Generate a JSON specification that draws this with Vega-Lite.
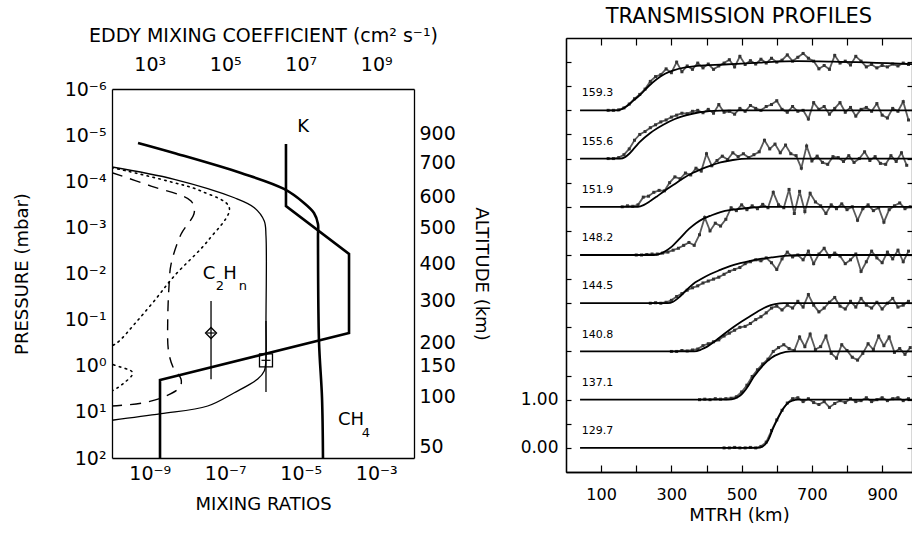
{
"$schema": "https://vega.github.io/schema/vega-lite/v6.json",
"background": "white",
"padding": {"left": 13, "top": 6, "right": 0, "bottom": 0},
"config": {
  "font": "DejaVu Sans",
  "view": {"stroke": null},
  "axis": {"grid": false, "domainColor": "black", "domainWidth": 1.3, "tickColor": "black", "tickWidth": 1.2, "labelColor": "black", "titleColor": "black", "titleFontWeight": "normal", "labelFont": "DejaVu Sans", "titleFont": "DejaVu Sans", "labelOverlap": false, "labelFlush": false},
  "title": {"font": "DejaVu Sans", "fontWeight": "normal", "color": "black"}
},
"datasets": {
  "thin": [{"m":1e-10,"p":4.91e-5},{"m":4.47e-9,"p":9.08e-5},{"m":1.74e-7,"p":2.28e-4},{"m":5.89e-7,"p":3.74e-4},{"m":1.08e-6,"p":7.28e-4},{"m":1.2e-6,"p":1.54e-3},{"m":1.2e-6,"p":0.107},{"m":1.2e-6,"p":0.668},{"m":1.08e-6,"p":1.3},{"m":7.24e-7,"p":1.94},{"m":1.74e-7,"p":3.84},{"m":3.43e-8,"p":7.46},{"m":1.99e-9,"p":10.96},{"m":1e-10,"p":15.2}],
  "dotted": [{"m":1e-10,"p":5.04e-5},{"m":2.99e-9,"p":9.89e-5},{"m":2.28e-8,"p":1.63e-4},{"m":1.28e-7,"p":3.74e-4},{"m":3.43e-8,"p":1.97e-3},{"m":4.47e-9,"p":1.13e-2},{"m":1.2e-9,"p":4.3e-2},{"m":3.9e-10,"p":0.126},{"m":1.56e-10,"p":0.29},{"m":1e-10,"p":0.373},{"m":3.77e-11,"p":0.556},{"m":1e-10,"p":0.916},{"m":3.53e-10,"p":1.42},{"m":1.92e-10,"p":2.49},{"m":1e-10,"p":3.52},{"m":3.8e-11,"p":5.25}],
  "dashed": [{"m":1e-10,"p":6.53e-5},{"m":1.08e-9,"p":1.27e-4},{"m":1.24e-8,"p":2.68e-4},{"m":1.51e-8,"p":4.81e-4},{"m":6.73e-9,"p":1.41e-3},{"m":3.66e-9,"p":6.32e-3},{"m":3.3e-9,"p":1.46e-2},{"m":2.99e-9,"p":0.107},{"m":3.14e-9,"p":0.479},{"m":4.13e-9,"p":1.06},{"m":6.73e-9,"p":1.94},{"m":6.32e-9,"p":2.89},{"m":2.69e-9,"p":4.53},{"m":7.18e-10,"p":6.32},{"m":1e-10,"p":7.46}],
  "ch4": [{"m":4.89e-10,"p":1.48e-5},{"m":4.39e-9,"p":2.44e-5},{"m":2.61e-7,"p":6.62e-5},{"m":3.6e-6,"p":1.47e-4},{"m":1.22e-5,"p":2.96e-4},{"m":2.24e-5,"p":4.88e-4},{"m":2.86e-5,"p":8.45e-4},{"m":2.86e-5,"p":1.54e-3},{"m":3.04e-5,"p":0.29},{"m":3.66e-5,"p":5.0},{"m":3.88e-5,"p":100}],
  "kprof": [{"k":4.06e6,"p":1.56e-5},{"k":4.06e6,"p":3.44e-4},{"k":1.9e8,"p":3.78e-3},{"k":1.9e8,"p":0.195},{"k":1.87e3,"p":2.04},{"k":1.87e3,"p":100}],
  "bars": [{"m":4.2e-8,"p":0.0394,"p2":1.97},{"m":1.2e-6,"p":0.107,"p2":3.7}],
  "diamond": [{"m":4.2e-8,"p":0.195}],
  "square": [{"m":1.2e-6,"p":0.762}],
  "centers": [{"m":4.2e-8,"p":0.195},{"m":1.2e-6,"p":0.762}],
  "txt": [{"m":1.15e-5,"p":6.67e-6,"t":"K"},{"m":3.72e-8,"p":1.03e-2,"t":"C"},{"m":1.34e-7,"p":1.03e-2,"t":"H"},{"m":2.14e-4,"p":15.0,"t":"CH"}],
  "sub": [{"m":7.26e-8,"p":1.87e-2,"t":"2"},{"m":2.95e-7,"p":1.87e-2,"t":"n"},{"m":5.35e-4,"p":28.7,"t":"4"}],
  "pmaj": [{"p":1e-5},{"p":1e-4},{"p":1e-3},{"p":1e-2},{"p":0.1},{"p":1},{"p":10}],
  "pmin": [{"p":2e-6},{"p":3e-6},{"p":4e-6},{"p":5e-6},{"p":6e-6},{"p":7e-6},{"p":8e-6},{"p":9e-6},{"p":2e-5},{"p":3e-5},{"p":4e-5},{"p":5e-5},{"p":6e-5},{"p":7e-5},{"p":8e-5},{"p":9e-5},{"p":2e-4},{"p":3e-4},{"p":4e-4},{"p":5e-4},{"p":6e-4},{"p":7e-4},{"p":8e-4},{"p":9e-4},{"p":2e-3},{"p":3e-3},{"p":4e-3},{"p":5e-3},{"p":6e-3},{"p":7e-3},{"p":8e-3},{"p":9e-3},{"p":0.02},{"p":0.03},{"p":0.04},{"p":0.05},{"p":0.06},{"p":0.07},{"p":0.08},{"p":0.09},{"p":0.2},{"p":0.3},{"p":0.4},{"p":0.5},{"p":0.6},{"p":0.7},{"p":0.8},{"p":0.9},{"p":2},{"p":3},{"p":4},{"p":5},{"p":6},{"p":7},{"p":8},{"p":9},{"p":20},{"p":30},{"p":40},{"p":50},{"p":60},{"p":70},{"p":80},{"p":90}],
  "mmaj": [{"m":1e-9},{"m":1e-8},{"m":1e-7},{"m":1e-6},{"m":1e-5},{"m":1e-4},{"m":1e-3}],
  "mmin": [{"m":2e-10},{"m":3e-10},{"m":4e-10},{"m":5e-10},{"m":6e-10},{"m":7e-10},{"m":8e-10},{"m":9e-10},{"m":2e-9},{"m":3e-9},{"m":4e-9},{"m":5e-9},{"m":6e-9},{"m":7e-9},{"m":8e-9},{"m":9e-9},{"m":2e-8},{"m":3e-8},{"m":4e-8},{"m":5e-8},{"m":6e-8},{"m":7e-8},{"m":8e-8},{"m":9e-8},{"m":2e-7},{"m":3e-7},{"m":4e-7},{"m":5e-7},{"m":6e-7},{"m":7e-7},{"m":8e-7},{"m":9e-7},{"m":2e-6},{"m":3e-6},{"m":4e-6},{"m":5e-6},{"m":6e-6},{"m":7e-6},{"m":8e-6},{"m":9e-6},{"m":2e-5},{"m":3e-5},{"m":4e-5},{"m":5e-5},{"m":6e-5},{"m":7e-5},{"m":8e-5},{"m":9e-5},{"m":2e-4},{"m":3e-4},{"m":4e-4},{"m":5e-4},{"m":6e-4},{"m":7e-4},{"m":8e-4},{"m":9e-4},{"m":2e-3},{"m":3e-3},{"m":4e-3},{"m":5e-3},{"m":6e-3},{"m":7e-3},{"m":8e-3},{"m":9e-3}],
  "kmaj": [{"k":1e3},{"k":1e4},{"k":1e5},{"k":1e6},{"k":1e7},{"k":1e8},{"k":1e9}],
  "kmin": [{"k":200},{"k":300},{"k":400},{"k":500},{"k":600},{"k":700},{"k":800},{"k":900},{"k":2e3},{"k":3e3},{"k":4e3},{"k":5e3},{"k":6e3},{"k":7e3},{"k":8e3},{"k":9e3},{"k":2e4},{"k":3e4},{"k":4e4},{"k":5e4},{"k":6e4},{"k":7e4},{"k":8e4},{"k":9e4},{"k":2e5},{"k":3e5},{"k":4e5},{"k":5e5},{"k":6e5},{"k":7e5},{"k":8e5},{"k":9e5},{"k":2e6},{"k":3e6},{"k":4e6},{"k":5e6},{"k":6e6},{"k":7e6},{"k":8e6},{"k":9e6},{"k":2e7},{"k":3e7},{"k":4e7},{"k":5e7},{"k":6e7},{"k":7e7},{"k":8e7},{"k":9e7},{"k":2e8},{"k":3e8},{"k":4e8},{"k":5e8},{"k":6e8},{"k":7e8},{"k":8e8},{"k":9e8},{"k":2e9},{"k":3e9},{"k":4e9},{"k":5e9},{"k":6e9},{"k":7e9},{"k":8e9},{"k":9e9}],
  "amaj": [{"p":9.0e-6},{"p":4.02e-5},{"p":2.09e-4},{"p":1.03e-3},{"p":6.22e-3},{"p":0.0394},{"p":0.321},{"p":1.01},{"p":4.53},{"p":55.0}],
  "amin": [{"p":4.3e-6},{"p":1.9e-5},{"p":9.2e-5},{"p":4.6e-4},{"p":2.5e-3},{"p":0.0157},{"p":0.113},{"p":0.57},{"p":2.14},{"p":15.8}],
  "model": [
    {"c":"129.7","x":40,"v":0},{"c":"129.7","x":545,"v":0},{"c":"129.7","x":560,"v":0.03},{"c":"129.7","x":575,"v":0.15},{"c":"129.7","x":591,"v":0.43},{"c":"129.7","x":601,"v":0.58},{"c":"129.7","x":611,"v":0.72},{"c":"129.7","x":620,"v":0.83},{"c":"129.7","x":630,"v":0.92},{"c":"129.7","x":645,"v":0.98},{"c":"129.7","x":660,"v":1.0},{"c":"129.7","x":985,"v":1.0},
    {"c":"137.1","x":40,"v":1},{"c":"137.1","x":462,"v":1},{"c":"137.1","x":480,"v":1.02},{"c":"137.1","x":495,"v":1.08},{"c":"137.1","x":505,"v":1.15},{"c":"137.1","x":520,"v":1.3},{"c":"137.1","x":534,"v":1.47},{"c":"137.1","x":548,"v":1.6},{"c":"137.1","x":562,"v":1.72},{"c":"137.1","x":585,"v":1.87},{"c":"137.1","x":610,"v":1.96},{"c":"137.1","x":640,"v":2.0},{"c":"137.1","x":985,"v":2.0},
    {"c":"140.8","x":40,"v":2},{"c":"140.8","x":365,"v":2},{"c":"140.8","x":385,"v":2.04},{"c":"140.8","x":402,"v":2.1},{"c":"140.8","x":420,"v":2.19},{"c":"140.8","x":450,"v":2.36},{"c":"140.8","x":476,"v":2.5},{"c":"140.8","x":500,"v":2.62},{"c":"140.8","x":524,"v":2.73},{"c":"140.8","x":548,"v":2.84},{"c":"140.8","x":572,"v":2.93},{"c":"140.8","x":595,"v":2.98},{"c":"140.8","x":620,"v":3.0},{"c":"140.8","x":985,"v":3.0},
    {"c":"144.5","x":40,"v":3},{"c":"144.5","x":290,"v":3},{"c":"144.5","x":305,"v":3.03},{"c":"144.5","x":320,"v":3.11},{"c":"144.5","x":344,"v":3.28},{"c":"144.5","x":362,"v":3.4},{"c":"144.5","x":382,"v":3.49},{"c":"144.5","x":410,"v":3.6},{"c":"144.5","x":439,"v":3.69},{"c":"144.5","x":467,"v":3.77},{"c":"144.5","x":496,"v":3.83},{"c":"144.5","x":525,"v":3.88},{"c":"144.5","x":553,"v":3.92},{"c":"144.5","x":585,"v":3.95},{"c":"144.5","x":620,"v":3.98},{"c":"144.5","x":680,"v":4.0},{"c":"144.5","x":985,"v":4.0},
    {"c":"148.2","x":40,"v":4},{"c":"148.2","x":250,"v":4},{"c":"148.2","x":265,"v":4.02},{"c":"148.2","x":285,"v":4.09},{"c":"148.2","x":302,"v":4.18},{"c":"148.2","x":325,"v":4.35},{"c":"148.2","x":350,"v":4.54},{"c":"148.2","x":370,"v":4.66},{"c":"148.2","x":390,"v":4.75},{"c":"148.2","x":410,"v":4.81},{"c":"148.2","x":440,"v":4.89},{"c":"148.2","x":476,"v":4.94},{"c":"148.2","x":524,"v":4.98},{"c":"148.2","x":580,"v":5.0},{"c":"148.2","x":985,"v":5.0},
    {"c":"151.9","x":40,"v":5},{"c":"151.9","x":205,"v":5},{"c":"151.9","x":222,"v":5.04},{"c":"151.9","x":240,"v":5.12},{"c":"151.9","x":258,"v":5.21},{"c":"151.9","x":277,"v":5.31},{"c":"151.9","x":305,"v":5.45},{"c":"151.9","x":334,"v":5.59},{"c":"151.9","x":360,"v":5.7},{"c":"151.9","x":385,"v":5.78},{"c":"151.9","x":410,"v":5.85},{"c":"151.9","x":440,"v":5.92},{"c":"151.9","x":475,"v":5.97},{"c":"151.9","x":520,"v":6.0},{"c":"151.9","x":985,"v":6.0},
    {"c":"155.6","x":40,"v":6},{"c":"155.6","x":155,"v":6},{"c":"155.6","x":168,"v":6.03},{"c":"155.6","x":180,"v":6.1},{"c":"155.6","x":195,"v":6.22},{"c":"155.6","x":211,"v":6.35},{"c":"155.6","x":240,"v":6.53},{"c":"155.6","x":277,"v":6.7},{"c":"155.6","x":310,"v":6.82},{"c":"155.6","x":344,"v":6.9},{"c":"155.6","x":380,"v":6.96},{"c":"155.6","x":420,"v":6.99},{"c":"155.6","x":460,"v":7.0},{"c":"155.6","x":985,"v":7.0},
    {"c":"159.3","x":40,"v":7},{"c":"159.3","x":148,"v":7},{"c":"159.3","x":160,"v":7.03},{"c":"159.3","x":172,"v":7.08},{"c":"159.3","x":190,"v":7.19},{"c":"159.3","x":211,"v":7.32},{"c":"159.3","x":235,"v":7.5},{"c":"159.3","x":259,"v":7.65},{"c":"159.3","x":282,"v":7.76},{"c":"159.3","x":306,"v":7.83},{"c":"159.3","x":340,"v":7.89},{"c":"159.3","x":373,"v":7.92},{"c":"159.3","x":450,"v":7.95},{"c":"159.3","x":550,"v":7.99},{"c":"159.3","x":660,"v":8.02},{"c":"159.3","x":760,"v":8.01},{"c":"159.3","x":985,"v":7.96}
  ],
  "labels": [{"c":"129.7","x":45,"v":0.35},{"c":"137.1","x":45,"v":1.35},{"c":"140.8","x":45,"v":2.35},{"c":"144.5","x":45,"v":3.35},{"c":"148.2","x":45,"v":4.35},{"c":"151.9","x":45,"v":5.35},{"c":"155.6","x":45,"v":6.35},{"c":"159.3","x":45,"v":7.35}],
  "noise": [
    {"c":"159.3","x":120,"v":7.0},{"c":"159.3","x":135,"v":7.0},{"c":"159.3","x":150,"v":7.01},{"c":"159.3","x":165,"v":7.05},{"c":"159.3","x":180,"v":7.13},{"c":"159.3","x":195,"v":7.24},{"c":"159.3","x":210,"v":7.33},{"c":"159.3","x":225,"v":7.44},{"c":"159.3","x":240,"v":7.6},{"c":"159.3","x":255,"v":7.7},{"c":"159.3","x":270,"v":7.74},{"c":"159.3","x":285,"v":7.86},{"c":"159.3","x":300,"v":7.78},{"c":"159.3","x":315,"v":8.0},{"c":"159.3","x":330,"v":7.8},{"c":"159.3","x":345,"v":7.92},{"c":"159.3","x":360,"v":7.85},{"c":"159.3","x":375,"v":7.98},{"c":"159.3","x":390,"v":7.88},{"c":"159.3","x":405,"v":7.96},{"c":"159.3","x":420,"v":7.85},{"c":"159.3","x":435,"v":7.92},{"c":"159.3","x":450,"v":7.98},{"c":"159.3","x":465,"v":8.05},{"c":"159.3","x":480,"v":7.9},{"c":"159.3","x":495,"v":8.12},{"c":"159.3","x":510,"v":7.95},{"c":"159.3","x":525,"v":8.03},{"c":"159.3","x":540,"v":7.96},{"c":"159.3","x":555,"v":8.06},{"c":"159.3","x":570,"v":7.98},{"c":"159.3","x":585,"v":8.08},{"c":"159.3","x":600,"v":8.0},{"c":"159.3","x":615,"v":8.04},{"c":"159.3","x":630,"v":8.15},{"c":"159.3","x":645,"v":8.02},{"c":"159.3","x":660,"v":8.1},{"c":"159.3","x":675,"v":8.18},{"c":"159.3","x":690,"v":8.08},{"c":"159.3","x":705,"v":8.02},{"c":"159.3","x":720,"v":7.86},{"c":"159.3","x":735,"v":7.93},{"c":"159.3","x":750,"v":7.85},{"c":"159.3","x":765,"v":8.14},{"c":"159.3","x":780,"v":7.98},{"c":"159.3","x":795,"v":8.02},{"c":"159.3","x":810,"v":7.94},{"c":"159.3","x":825,"v":8.12},{"c":"159.3","x":840,"v":8.02},{"c":"159.3","x":855,"v":7.9},{"c":"159.3","x":870,"v":7.95},{"c":"159.3","x":885,"v":7.88},{"c":"159.3","x":900,"v":7.93},{"c":"159.3","x":915,"v":7.9},{"c":"159.3","x":930,"v":7.96},{"c":"159.3","x":945,"v":7.92},{"c":"159.3","x":960,"v":7.98},{"c":"159.3","x":975,"v":7.95},
    {"c":"155.6","x":120,"v":6.0},{"c":"155.6","x":135,"v":6.0},{"c":"155.6","x":150,"v":6.02},{"c":"155.6","x":165,"v":6.08},{"c":"155.6","x":180,"v":6.2},{"c":"155.6","x":195,"v":6.38},{"c":"155.6","x":210,"v":6.5},{"c":"155.6","x":225,"v":6.56},{"c":"155.6","x":240,"v":6.64},{"c":"155.6","x":255,"v":6.7},{"c":"155.6","x":270,"v":6.76},{"c":"155.6","x":285,"v":6.8},{"c":"155.6","x":300,"v":6.86},{"c":"155.6","x":315,"v":6.9},{"c":"155.6","x":330,"v":6.94},{"c":"155.6","x":345,"v":6.93},{"c":"155.6","x":360,"v":6.98},{"c":"155.6","x":375,"v":7.0},{"c":"155.6","x":390,"v":6.95},{"c":"155.6","x":405,"v":7.02},{"c":"155.6","x":420,"v":6.94},{"c":"155.6","x":435,"v":7.12},{"c":"155.6","x":450,"v":6.96},{"c":"155.6","x":465,"v":6.98},{"c":"155.6","x":480,"v":6.92},{"c":"155.6","x":495,"v":7.04},{"c":"155.6","x":510,"v":6.98},{"c":"155.6","x":525,"v":7.1},{"c":"155.6","x":540,"v":7.04},{"c":"155.6","x":555,"v":7.0},{"c":"155.6","x":570,"v":7.08},{"c":"155.6","x":585,"v":7.12},{"c":"155.6","x":600,"v":7.2},{"c":"155.6","x":615,"v":7.02},{"c":"155.6","x":630,"v":6.96},{"c":"155.6","x":645,"v":7.08},{"c":"155.6","x":660,"v":6.98},{"c":"155.6","x":675,"v":7.0},{"c":"155.6","x":690,"v":6.82},{"c":"155.6","x":705,"v":7.16},{"c":"155.6","x":720,"v":7.02},{"c":"155.6","x":735,"v":7.08},{"c":"155.6","x":750,"v":6.92},{"c":"155.6","x":765,"v":7.04},{"c":"155.6","x":780,"v":7.16},{"c":"155.6","x":795,"v":6.96},{"c":"155.6","x":810,"v":7.06},{"c":"155.6","x":825,"v":6.88},{"c":"155.6","x":840,"v":7.02},{"c":"155.6","x":855,"v":7.06},{"c":"155.6","x":870,"v":6.98},{"c":"155.6","x":885,"v":7.14},{"c":"155.6","x":900,"v":6.9},{"c":"155.6","x":915,"v":6.84},{"c":"155.6","x":930,"v":7.04},{"c":"155.6","x":945,"v":6.98},{"c":"155.6","x":960,"v":7.18},{"c":"155.6","x":975,"v":6.8},
    {"c":"151.9","x":160,"v":5.0},{"c":"151.9","x":175,"v":5.02},{"c":"151.9","x":190,"v":5.01},{"c":"151.9","x":205,"v":5.04},{"c":"151.9","x":220,"v":5.2},{"c":"151.9","x":235,"v":5.22},{"c":"151.9","x":250,"v":5.3},{"c":"151.9","x":265,"v":5.34},{"c":"151.9","x":280,"v":5.33},{"c":"151.9","x":295,"v":5.5},{"c":"151.9","x":310,"v":5.62},{"c":"151.9","x":325,"v":5.58},{"c":"151.9","x":340,"v":5.7},{"c":"151.9","x":355,"v":5.66},{"c":"151.9","x":370,"v":5.8},{"c":"151.9","x":385,"v":5.74},{"c":"151.9","x":400,"v":6.1},{"c":"151.9","x":415,"v":5.85},{"c":"151.9","x":430,"v":5.96},{"c":"151.9","x":445,"v":6.05},{"c":"151.9","x":460,"v":5.98},{"c":"151.9","x":475,"v":6.12},{"c":"151.9","x":490,"v":6.04},{"c":"151.9","x":505,"v":6.1},{"c":"151.9","x":520,"v":6.02},{"c":"151.9","x":535,"v":6.08},{"c":"151.9","x":550,"v":6.14},{"c":"151.9","x":565,"v":6.38},{"c":"151.9","x":580,"v":6.2},{"c":"151.9","x":595,"v":6.3},{"c":"151.9","x":610,"v":6.12},{"c":"151.9","x":625,"v":6.28},{"c":"151.9","x":640,"v":6.1},{"c":"151.9","x":655,"v":6.06},{"c":"151.9","x":670,"v":5.8},{"c":"151.9","x":685,"v":6.26},{"c":"151.9","x":700,"v":5.95},{"c":"151.9","x":715,"v":6.05},{"c":"151.9","x":730,"v":5.92},{"c":"151.9","x":745,"v":5.88},{"c":"151.9","x":760,"v":6.04},{"c":"151.9","x":775,"v":6.02},{"c":"151.9","x":790,"v":5.94},{"c":"151.9","x":805,"v":6.06},{"c":"151.9","x":820,"v":5.92},{"c":"151.9","x":835,"v":6.0},{"c":"151.9","x":850,"v":6.14},{"c":"151.9","x":865,"v":5.96},{"c":"151.9","x":880,"v":6.04},{"c":"151.9","x":895,"v":5.9},{"c":"151.9","x":910,"v":5.88},{"c":"151.9","x":925,"v":6.06},{"c":"151.9","x":940,"v":5.94},{"c":"151.9","x":955,"v":6.12},{"c":"151.9","x":970,"v":5.86},
    {"c":"148.2","x":200,"v":4.0},{"c":"148.2","x":215,"v":4.0},{"c":"148.2","x":230,"v":4.01},{"c":"148.2","x":245,"v":4.02},{"c":"148.2","x":260,"v":4.02},{"c":"148.2","x":275,"v":4.04},{"c":"148.2","x":290,"v":4.06},{"c":"148.2","x":305,"v":4.1},{"c":"148.2","x":320,"v":4.14},{"c":"148.2","x":335,"v":4.2},{"c":"148.2","x":350,"v":4.26},{"c":"148.2","x":365,"v":4.2},{"c":"148.2","x":380,"v":4.42},{"c":"148.2","x":395,"v":4.78},{"c":"148.2","x":410,"v":4.5},{"c":"148.2","x":425,"v":4.66},{"c":"148.2","x":440,"v":4.6},{"c":"148.2","x":455,"v":4.74},{"c":"148.2","x":470,"v":4.98},{"c":"148.2","x":485,"v":4.92},{"c":"148.2","x":500,"v":5.04},{"c":"148.2","x":515,"v":4.94},{"c":"148.2","x":530,"v":5.02},{"c":"148.2","x":545,"v":4.96},{"c":"148.2","x":560,"v":5.05},{"c":"148.2","x":575,"v":4.98},{"c":"148.2","x":590,"v":5.3},{"c":"148.2","x":605,"v":5.04},{"c":"148.2","x":620,"v":4.98},{"c":"148.2","x":635,"v":5.36},{"c":"148.2","x":650,"v":4.86},{"c":"148.2","x":665,"v":5.32},{"c":"148.2","x":680,"v":4.9},{"c":"148.2","x":695,"v":5.28},{"c":"148.2","x":710,"v":5.1},{"c":"148.2","x":725,"v":5.02},{"c":"148.2","x":740,"v":4.86},{"c":"148.2","x":755,"v":5.04},{"c":"148.2","x":770,"v":4.96},{"c":"148.2","x":785,"v":5.06},{"c":"148.2","x":800,"v":4.94},{"c":"148.2","x":815,"v":5.0},{"c":"148.2","x":830,"v":4.72},{"c":"148.2","x":845,"v":4.96},{"c":"148.2","x":860,"v":5.04},{"c":"148.2","x":875,"v":4.92},{"c":"148.2","x":890,"v":4.98},{"c":"148.2","x":905,"v":4.68},{"c":"148.2","x":920,"v":4.94},{"c":"148.2","x":935,"v":5.02},{"c":"148.2","x":950,"v":5.08},{"c":"148.2","x":965,"v":4.96},{"c":"148.2","x":980,"v":5.0},
    {"c":"144.5","x":240,"v":3.0},{"c":"144.5","x":255,"v":3.01},{"c":"144.5","x":270,"v":3.0},{"c":"144.5","x":285,"v":3.02},{"c":"144.5","x":300,"v":3.06},{"c":"144.5","x":315,"v":3.14},{"c":"144.5","x":330,"v":3.2},{"c":"144.5","x":345,"v":3.27},{"c":"144.5","x":360,"v":3.32},{"c":"144.5","x":375,"v":3.36},{"c":"144.5","x":390,"v":3.42},{"c":"144.5","x":405,"v":3.46},{"c":"144.5","x":420,"v":3.5},{"c":"144.5","x":435,"v":3.54},{"c":"144.5","x":450,"v":3.6},{"c":"144.5","x":465,"v":3.66},{"c":"144.5","x":480,"v":3.7},{"c":"144.5","x":495,"v":3.74},{"c":"144.5","x":510,"v":3.82},{"c":"144.5","x":525,"v":3.86},{"c":"144.5","x":540,"v":3.9},{"c":"144.5","x":555,"v":3.88},{"c":"144.5","x":570,"v":3.94},{"c":"144.5","x":585,"v":3.84},{"c":"144.5","x":600,"v":3.7},{"c":"144.5","x":615,"v":3.92},{"c":"144.5","x":630,"v":4.06},{"c":"144.5","x":645,"v":3.96},{"c":"144.5","x":660,"v":4.0},{"c":"144.5","x":675,"v":3.9},{"c":"144.5","x":690,"v":4.08},{"c":"144.5","x":705,"v":3.82},{"c":"144.5","x":720,"v":4.02},{"c":"144.5","x":735,"v":4.14},{"c":"144.5","x":750,"v":3.96},{"c":"144.5","x":765,"v":4.04},{"c":"144.5","x":780,"v":3.98},{"c":"144.5","x":795,"v":3.82},{"c":"144.5","x":810,"v":3.9},{"c":"144.5","x":825,"v":4.02},{"c":"144.5","x":840,"v":3.66},{"c":"144.5","x":855,"v":3.86},{"c":"144.5","x":870,"v":4.08},{"c":"144.5","x":885,"v":3.94},{"c":"144.5","x":900,"v":3.84},{"c":"144.5","x":915,"v":4.06},{"c":"144.5","x":930,"v":3.92},{"c":"144.5","x":945,"v":4.1},{"c":"144.5","x":960,"v":3.86},{"c":"144.5","x":975,"v":4.08},
    {"c":"140.8","x":300,"v":2.0},{"c":"140.8","x":315,"v":2.0},{"c":"140.8","x":330,"v":2.02},{"c":"140.8","x":345,"v":2.01},{"c":"140.8","x":360,"v":2.03},{"c":"140.8","x":375,"v":2.05},{"c":"140.8","x":390,"v":2.12},{"c":"140.8","x":405,"v":2.16},{"c":"140.8","x":420,"v":2.2},{"c":"140.8","x":435,"v":2.24},{"c":"140.8","x":450,"v":2.32},{"c":"140.8","x":465,"v":2.38},{"c":"140.8","x":480,"v":2.44},{"c":"140.8","x":495,"v":2.5},{"c":"140.8","x":510,"v":2.52},{"c":"140.8","x":525,"v":2.58},{"c":"140.8","x":540,"v":2.66},{"c":"140.8","x":555,"v":2.72},{"c":"140.8","x":570,"v":2.8},{"c":"140.8","x":585,"v":2.9},{"c":"140.8","x":600,"v":2.94},{"c":"140.8","x":615,"v":2.86},{"c":"140.8","x":630,"v":2.96},{"c":"140.8","x":645,"v":2.9},{"c":"140.8","x":660,"v":3.04},{"c":"140.8","x":675,"v":2.92},{"c":"140.8","x":690,"v":3.18},{"c":"140.8","x":705,"v":2.96},{"c":"140.8","x":720,"v":2.82},{"c":"140.8","x":735,"v":2.9},{"c":"140.8","x":750,"v":3.02},{"c":"140.8","x":765,"v":3.12},{"c":"140.8","x":780,"v":2.94},{"c":"140.8","x":795,"v":2.88},{"c":"140.8","x":810,"v":3.04},{"c":"140.8","x":825,"v":2.92},{"c":"140.8","x":840,"v":3.1},{"c":"140.8","x":855,"v":2.96},{"c":"140.8","x":870,"v":2.9},{"c":"140.8","x":885,"v":3.02},{"c":"140.8","x":900,"v":2.88},{"c":"140.8","x":915,"v":3.0},{"c":"140.8","x":930,"v":3.1},{"c":"140.8","x":945,"v":2.92},{"c":"140.8","x":960,"v":2.96},{"c":"140.8","x":975,"v":3.04},
    {"c":"137.1","x":380,"v":1.0},{"c":"137.1","x":395,"v":1.01},{"c":"137.1","x":410,"v":1.0},{"c":"137.1","x":425,"v":1.02},{"c":"137.1","x":440,"v":1.01},{"c":"137.1","x":455,"v":1.02},{"c":"137.1","x":470,"v":1.03},{"c":"137.1","x":485,"v":1.06},{"c":"137.1","x":500,"v":1.16},{"c":"137.1","x":515,"v":1.3},{"c":"137.1","x":530,"v":1.48},{"c":"137.1","x":545,"v":1.62},{"c":"137.1","x":560,"v":1.74},{"c":"137.1","x":575,"v":1.84},{"c":"137.1","x":590,"v":2.0},{"c":"137.1","x":605,"v":2.08},{"c":"137.1","x":620,"v":2.14},{"c":"137.1","x":635,"v":2.06},{"c":"137.1","x":650,"v":2.02},{"c":"137.1","x":665,"v":2.3},{"c":"137.1","x":680,"v":2.1},{"c":"137.1","x":695,"v":2.36},{"c":"137.1","x":710,"v":2.04},{"c":"137.1","x":725,"v":2.1},{"c":"137.1","x":740,"v":2.32},{"c":"137.1","x":755,"v":1.96},{"c":"137.1","x":770,"v":1.86},{"c":"137.1","x":785,"v":2.14},{"c":"137.1","x":800,"v":2.02},{"c":"137.1","x":815,"v":1.88},{"c":"137.1","x":830,"v":1.82},{"c":"137.1","x":845,"v":1.96},{"c":"137.1","x":860,"v":2.16},{"c":"137.1","x":875,"v":2.04},{"c":"137.1","x":890,"v":2.32},{"c":"137.1","x":905,"v":2.12},{"c":"137.1","x":920,"v":2.3},{"c":"137.1","x":935,"v":1.98},{"c":"137.1","x":950,"v":2.06},{"c":"137.1","x":965,"v":1.94},{"c":"137.1","x":980,"v":2.08},
    {"c":"129.7","x":450,"v":0.0},{"c":"129.7","x":465,"v":0.0},{"c":"129.7","x":480,"v":0.01},{"c":"129.7","x":495,"v":0.0},{"c":"129.7","x":510,"v":0.0},{"c":"129.7","x":525,"v":0.01},{"c":"129.7","x":540,"v":0.0},{"c":"129.7","x":555,"v":0.03},{"c":"129.7","x":570,"v":0.12},{"c":"129.7","x":585,"v":0.36},{"c":"129.7","x":600,"v":0.58},{"c":"129.7","x":615,"v":0.78},{"c":"129.7","x":630,"v":0.93},{"c":"129.7","x":645,"v":1.02},{"c":"129.7","x":660,"v":1.04},{"c":"129.7","x":675,"v":0.96},{"c":"129.7","x":690,"v":1.02},{"c":"129.7","x":705,"v":0.94},{"c":"129.7","x":720,"v":0.9},{"c":"129.7","x":735,"v":0.96},{"c":"129.7","x":750,"v":0.84},{"c":"129.7","x":765,"v":0.92},{"c":"129.7","x":780,"v":0.98},{"c":"129.7","x":795,"v":0.94},{"c":"129.7","x":810,"v":1.02},{"c":"129.7","x":825,"v":0.96},{"c":"129.7","x":840,"v":0.98},{"c":"129.7","x":855,"v":1.04},{"c":"129.7","x":870,"v":0.96},{"c":"129.7","x":885,"v":1.0},{"c":"129.7","x":900,"v":1.04},{"c":"129.7","x":915,"v":0.98},{"c":"129.7","x":930,"v":1.02},{"c":"129.7","x":945,"v":1.04},{"c":"129.7","x":960,"v":0.98},{"c":"129.7","x":975,"v":1.02}
  ]
},
"spacing": 152,
"bounds": "flush",
"hconcat": [
  {
    "width": 302,
    "height": 420,
    "layer": [
      {
        "encoding": {
          "x": {"field": "m", "type": "quantitative", "scale": {"type": "log", "domain": [1e-10, 0.01], "nice": false},
            "axis": {"orient": "bottom", "title": "MIXING RATIOS", "tickCount": 80, "ticks": false,
              "labelExpr": "abs(log(datum.value)/LN10-round(log(datum.value)/LN10))<0.001 && round(log(datum.value)/LN10)%2!=0 ? '10'+(round(log(datum.value)/LN10)<0?'⁻':'')+['⁰','¹','²','³','⁴','⁵','⁶','⁷','⁸','⁹'][abs(round(log(datum.value)/LN10))] : ''",
              "labelPadding": 6, "labelFontSize": 19, "titleFontSize": 18, "titlePadding": 12}},
          "y": {"field": "p", "type": "quantitative", "scale": {"type": "log", "domain": [1e-6, 100], "range": [51, 420], "nice": false},
            "axis": {"orient": "left", "title": "PRESSURE (mbar)", "tickCount": 80, "ticks": false,
              "labelExpr": "abs(log(datum.value)/LN10-round(log(datum.value)/LN10))<0.001 ? '10'+(round(log(datum.value)/LN10)<0?'⁻':'')+['⁰','¹','²','³','⁴','⁵','⁶','⁷','⁸','⁹'][abs(round(log(datum.value)/LN10))] : ''",
              "labelPadding": 6, "labelFontSize": 19, "titleFontSize": 18, "titlePadding": 33}}
        },
        "layer": [
          {"data": {"name": "thin"}, "mark": {"type": "line", "color": "black", "strokeWidth": 1.3, "interpolate": "catmull-rom", "clip": true}, "encoding": {"order": {"field": "p", "type": "quantitative"}}},
          {"data": {"name": "dotted"}, "mark": {"type": "line", "color": "black", "strokeWidth": 1.6, "strokeDash": [1.5, 4.5], "strokeCap": "round", "interpolate": "catmull-rom", "clip": true}, "encoding": {"order": {"field": "p", "type": "quantitative"}}},
          {"data": {"name": "dashed"}, "mark": {"type": "line", "color": "black", "strokeWidth": 1.4, "strokeDash": [11, 8], "interpolate": "catmull-rom", "clip": true}, "encoding": {"order": {"field": "p", "type": "quantitative"}}},
          {"data": {"name": "ch4"}, "mark": {"type": "line", "color": "black", "strokeWidth": 2.6, "interpolate": "catmull-rom", "clip": true}, "encoding": {"order": {"field": "p", "type": "quantitative"}}},
          {"data": {"name": "bars"}, "mark": {"type": "rule", "color": "black", "strokeWidth": 1.3}, "encoding": {"y2": {"field": "p2"}}},
          {"data": {"name": "diamond"}, "mark": {"type": "point", "shape": "diamond", "size": 121, "filled": false, "color": "black", "strokeWidth": 1.3, "opacity": 1}},
          {"data": {"name": "square"}, "mark": {"type": "point", "shape": "square", "size": 169, "filled": false, "color": "black", "strokeWidth": 1.3, "opacity": 1}},
          {"data": {"name": "centers"}, "mark": {"type": "point", "shape": "stroke", "size": 81, "filled": false, "color": "black", "strokeWidth": 1.2, "opacity": 1}},
          {"data": {"name": "txt"}, "mark": {"type": "text", "fontSize": 18, "color": "black"}, "encoding": {"text": {"field": "t"}}},
          {"data": {"name": "sub"}, "mark": {"type": "text", "fontSize": 13, "color": "black"}, "encoding": {"text": {"field": "t"}}},
          {"data": {"name": "pmaj"}, "mark": {"type": "rule", "color": "black", "strokeWidth": 1.4}, "encoding": {"x": {"datum": 1e-10}, "x2": {"datum": 1.55e-10}}},
          {"data": {"name": "pmin"}, "mark": {"type": "rule", "color": "black", "strokeWidth": 1.2}, "encoding": {"x": {"datum": 1e-10}, "x2": {"datum": 1.24e-10}}},
          {"data": {"name": "mmaj"}, "mark": {"type": "rule", "color": "black", "strokeWidth": 1.4}, "encoding": {"y": {"datum": 100}, "y2": {"datum": 70}}},
          {"data": {"name": "mmin"}, "mark": {"type": "rule", "color": "black", "strokeWidth": 1.2}, "encoding": {"y": {"datum": 100}, "y2": {"datum": 84}}}
        ]
      },
      {
        "encoding": {
          "x": {"field": "k", "type": "quantitative", "scale": {"type": "log", "domain": [100, 1e10], "nice": false},
            "axis": {"orient": "top", "offset": -51, "title": "EDDY MIXING COEFFICIENT (cm² s⁻¹)", "tickCount": 80, "ticks": false,
              "labelExpr": "abs(log(datum.value)/LN10-round(log(datum.value)/LN10))<0.001 && round(log(datum.value)/LN10)%2!=0 ? '10'+(round(log(datum.value)/LN10)<0?'⁻':'')+['⁰','¹','²','³','⁴','⁵','⁶','⁷','⁸','⁹'][abs(round(log(datum.value)/LN10))] : ''",
              "labelPadding": 15, "labelFontSize": 19, "titleFontSize": 19, "titlePadding": 10}},
          "y": {"field": "p", "type": "quantitative", "scale": {"type": "log", "domain": [1e-6, 100], "range": [51, 420], "nice": false},
            "axis": {"orient": "right", "title": "ALTITUDE (km)", "values": [9.0e-6, 4.02e-5, 2.09e-4, 1.03e-3, 6.22e-3, 0.0394, 0.321, 1.01, 4.53, 55.0], "ticks": false,
              "labelExpr": "datum.value < 2e-5 ? '900' : datum.value < 1e-4 ? '700' : datum.value < 5e-4 ? '600' : datum.value < 3e-3 ? '500' : datum.value < 0.02 ? '400' : datum.value < 0.1 ? '300' : datum.value < 0.6 ? '200' : datum.value < 2 ? '150' : datum.value < 10 ? '100' : '50'",
              "labelPadding": 5, "labelFontSize": 19, "titleFontSize": 18, "titlePadding": 16}}
        },
        "layer": [
          {"data": {"name": "kprof"}, "mark": {"type": "line", "color": "black", "strokeWidth": 2.6, "clip": true}, "encoding": {"order": {"field": "p", "type": "quantitative"}}},
          {"data": {"name": "kmaj"}, "mark": {"type": "rule", "color": "black", "strokeWidth": 1.4}, "encoding": {"y": {"datum": 1e-6}, "y2": {"datum": 1.42e-6}}},
          {"data": {"name": "kmin"}, "mark": {"type": "rule", "color": "black", "strokeWidth": 1.2}, "encoding": {"y": {"datum": 1e-6}, "y2": {"datum": 1.19e-6}}},
          {"data": {"name": "amaj"}, "mark": {"type": "rule", "color": "black", "strokeWidth": 1.4}, "encoding": {"x": {"datum": 1e10}, "x2": {"datum": 6.5e9}}},
          {"data": {"name": "amin"}, "mark": {"type": "rule", "color": "black", "strokeWidth": 1.2}, "encoding": {"x": {"datum": 1e10}, "x2": {"datum": 8.1e9}}}
        ]
      }
    ],
    "resolve": {"scale": {"x": "independent"}, "axis": {"x": "independent", "y": "independent"}}
  },
  {
    "width": 346,
    "height": 434,
    "title": {"text": "TRANSMISSION PROFILES", "fontSize": 21, "offset": 10},
    "layer": [
      {
        "data": {"name": "noise"},
        "mark": {"type": "line", "color": "#5a5a5a", "strokeWidth": 1.8},
        "encoding": {
          "x": {"field": "x", "type": "quantitative", "scale": {"domain": [0, 985], "nice": false, "zero": false},
            "axis": {"orient": "bottom", "title": "MTRH (km)", "values": [100, 200, 300, 400, 500, 600, 700, 800, 900], "ticks": false,
              "labelExpr": "datum.value % 200 == 100 ? datum.label : ''", "labelPadding": 14, "labelFontSize": 16, "titleFontSize": 18, "titlePadding": 4}},
          "y": {"field": "v", "type": "quantitative", "scale": {"domain": [-0.5, 8.5], "nice": false, "zero": false},
            "axis": {"orient": "left", "title": null, "values": [0, 1], "ticks": false,
              "labelExpr": "datum.value == 0 ? '0.00' : '1.00'", "labelPadding": 8, "labelFontSize": 17}},
          "detail": {"field": "c"}
        }
      },
      {
        "data": {"name": "noise"},
        "mark": {"type": "point", "shape": "square", "size": 9, "filled": true, "color": "#333333", "opacity": 1},
        "encoding": {
          "x": {"field": "x", "type": "quantitative",
            "axis": {"orient": "top", "offset": -434, "title": null, "values": [100, 200, 300, 400, 500, 600, 700, 800, 900], "labels": false, "tickSize": 7}},
          "y": {"field": "v", "type": "quantitative",
            "axis": {"orient": "right", "offset": -346, "title": null, "values": [0, 0.5, 1, 1.5, 2, 2.5, 3, 3.5, 4, 4.5, 5, 5.5, 6, 6.5, 7, 7.5, 8], "labels": false, "tickSize": 5}}
        }
      },
      {
        "data": {"name": "model"},
        "mark": {"type": "line", "color": "black", "strokeWidth": 1.8, "interpolate": "monotone"},
        "encoding": {
          "x": {"field": "x", "type": "quantitative",
            "axis": {"orient": "bottom", "offset": -434, "title": null, "values": [100, 200, 300, 400, 500, 600, 700, 800, 900], "labels": false, "tickSize": 7}},
          "y": {"field": "v", "type": "quantitative",
            "axis": {"orient": "left", "offset": -346, "title": null, "values": [0, 0.5, 1, 1.5, 2, 2.5, 3, 3.5, 4, 4.5, 5, 5.5, 6, 6.5, 7, 7.5, 8], "labels": false, "tickSize": 5}},
          "detail": {"field": "c"}
        }
      },
      {
        "data": {"name": "labels"},
        "mark": {"type": "text", "align": "left", "baseline": "middle", "fontSize": 11, "color": "black"},
        "encoding": {
          "x": {"field": "x", "type": "quantitative", "axis": null},
          "y": {"field": "v", "type": "quantitative", "axis": null},
          "text": {"field": "c"}
        }
      }
    ],
    "resolve": {"axis": {"x": "independent", "y": "independent"}}
  }
]
}
